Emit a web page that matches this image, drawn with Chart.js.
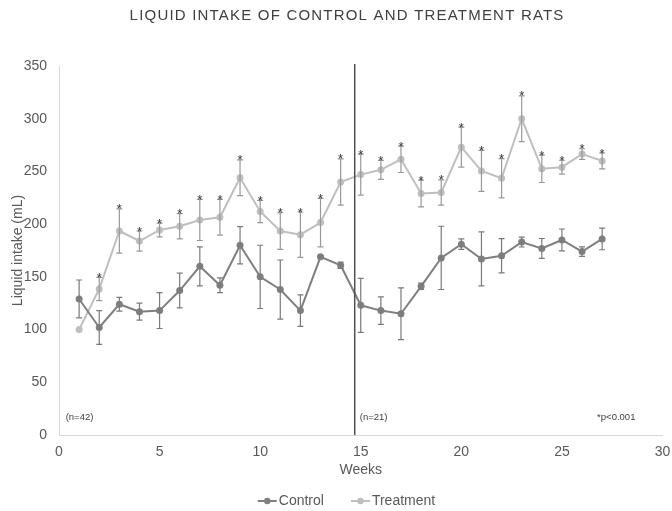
<!DOCTYPE html>
<html>
<head>
<meta charset="utf-8">
<script src="https://cdn.jsdelivr.net/npm/chart.js@4"></script>
<style>
  html, body { margin: 0; padding: 0; background: #ffffff; }
</style>
</head>
<body>
<canvas id="c" width="672" height="511"></canvas>
<script>
// Weekly liquid intake (mL), mean and error, per group
const weeks = [1,2,3,4,5,6,7,8,9,10,11,12,13,14,15,16,17,18,19,20,21,22,23,24,25,26,27];
const control = [129,102,124,117,118,137,160,142,180,150,138,118,169,161,123,118,115,141,168,181,167,170,183,177,185,174,186];
const controlErr = [18,16,6.5,8,17,16.5,18.5,7,17.7,30,28,15,1,3,25.6,13,24.5,3,30,5,25.6,16.3,4.7,9.4,10.4,4.5,10.3];
const treatment = [100,138.5,193.5,184,194.5,198,204,206.5,244,212,193.5,190,201.5,240,247,251.5,261.5,229,230,273,250.5,243.5,300,252.5,254,266.5,260];
const treatmentErr = [0,11,21,9.5,6.5,12,19.5,17,17,10.5,17.5,21.5,23,22,19.5,9,12.5,12.7,12,19,19.5,18.6,21.7,13,6.6,5,7.5];
// weeks where treatment differs significantly (*p<0.001)
const significant = [false,true,true,true,true,true,true,true,true,true,true,true,true,true,true,true,true,true,true,true,true,true,true,true,true,true,true];
const xTicks = [0,5,10,15,20,25,30];
const yTicks = [0,50,100,150,200,250,300,350];
const groupChangeWeek = 14.7;
const groupNotes = [{week: 0.33, text: '(n=42)'}, {week: 14.95, text: '(n=21)'}];

const FONT = "'Liberation Sans', Arial, sans-serif";
const C_CONTROL = '#7f7f7f';
const C_TREAT = '#bfbfbf';
const TEXT = '#595959';
const CENTER_X = 346.5;

const errorBars = {
  id: 'errorBars',
  afterDatasetsDraw(chart) {
    const ctx = chart.ctx;
    const ys = chart.scales.y;
    chart.data.datasets.forEach((ds, i) => {
      const meta = chart.getDatasetMeta(i);
      ctx.save();
      ctx.strokeStyle = ds.errColor;
      ctx.lineWidth = 1.2;
      meta.data.forEach((pt, j) => {
        const e = ds.err[j];
        if (!e) return;
        const v = ds.data[j].y;
        const yt = ys.getPixelForValue(v + e);
        const yb = ys.getPixelForValue(v - e);
        ctx.beginPath();
        ctx.moveTo(pt.x, yt); ctx.lineTo(pt.x, yb);
        ctx.moveTo(pt.x - 3, yt); ctx.lineTo(pt.x + 3, yt);
        ctx.moveTo(pt.x - 3, yb); ctx.lineTo(pt.x + 3, yb);
        ctx.stroke();
      });
      ctx.restore();
    });
  }
};

const annotations = {
  id: 'annotations',
  afterDraw(chart) {
    const ctx = chart.ctx;
    const xs = chart.scales.x, ys = chart.scales.y;
    const area = chart.chartArea;
    ctx.save();

    // chart title
    ctx.fillStyle = '#404040';
    ctx.font = '15px ' + FONT;
    ctx.textBaseline = 'middle';
    ctx.textAlign = 'left';
    const title = 'LIQUID INTAKE OF CONTROL AND TREATMENT RATS';
    ctx.letterSpacing = '1.2px';
    const tw = ctx.measureText(title).width - 1.2;
    ctx.fillText(title, CENTER_X - tw / 2, 16);
    ctx.letterSpacing = '0px';

    // divider between group sizes
    const xd = xs.getPixelForValue(groupChangeWeek);
    ctx.strokeStyle = '#505050';
    ctx.lineWidth = 1.5;
    ctx.beginPath();
    ctx.moveTo(xd, area.top - 2); ctx.lineTo(xd, area.bottom);
    ctx.stroke();

    // significance stars above treatment error bars
    ctx.fillStyle = '#333333';
    ctx.font = '13px ' + FONT;
    ctx.textAlign = 'center';
    weeks.forEach((w, i) => {
      if (!significant[i]) return;
      const yTop = ys.getPixelForValue(treatment[i] + treatmentErr[i]);
      ctx.fillText('*', xs.getPixelForValue(w), yTop + 1);
    });

    // group size notes and p-value key
    ctx.fillStyle = '#404040';
    ctx.font = '9.5px ' + FONT;
    ctx.textAlign = 'left';
    const yNote = ys.getPixelForValue(17);
    groupNotes.forEach(n => ctx.fillText(n.text, xs.getPixelForValue(n.week), yNote));
    ctx.fillText('*p<0.001', xs.getPixelForValue(26.75), yNote);

    // legend
    ctx.font = '14px ' + FONT;
    const items = chart.data.datasets.map(ds => ({label: ds.label, color: ds.borderColor, w: ctx.measureText(ds.label).width}));
    const markerW = 19, markerGap = 2, itemGap = 27;
    const total = items.reduce((s, it) => s + markerW + markerGap + it.w, 0) + itemGap * (items.length - 1);
    let x = CENTER_X - total / 2;
    const yL = 501;
    items.forEach(it => {
      ctx.strokeStyle = it.color;
      ctx.lineWidth = 2;
      ctx.beginPath(); ctx.moveTo(x, yL); ctx.lineTo(x + markerW, yL); ctx.stroke();
      ctx.fillStyle = it.color;
      ctx.beginPath(); ctx.arc(x + markerW / 2, yL, 3.2, 0, Math.PI * 2); ctx.fill();
      x += markerW + markerGap;
      ctx.fillStyle = TEXT;
      ctx.fillText(it.label, x, yL);
      x += it.w + itemGap;
    });
    ctx.restore();
  }
};

const toPoints = (vals) => weeks.map((w, i) => ({x: w, y: vals[i]}));

new Chart(document.getElementById('c'), {
  type: 'line',
  data: {
    datasets: [
      {
        label: 'Control', data: toPoints(control), err: controlErr, errColor: '#7a7a7a',
        borderColor: C_CONTROL, backgroundColor: C_CONTROL, borderWidth: 2,
        pointRadius: 3.5, pointBorderWidth: 0, pointBackgroundColor: C_CONTROL, tension: 0
      },
      {
        label: 'Treatment', data: toPoints(treatment), err: treatmentErr, errColor: '#999999',
        borderColor: C_TREAT, backgroundColor: C_TREAT, borderWidth: 2,
        pointRadius: 3.5, pointBorderWidth: 0, pointBackgroundColor: C_TREAT, tension: 0
      }
    ]
  },
  options: {
    responsive: false,
    animation: false,
    layout: { padding: { left: 0, right: 9.5, top: 66, bottom: 31 } },
    scales: {
      x: {
        type: 'linear', min: 0, max: 30,
        afterBuildTicks: (s) => { s.ticks = xTicks.map(v => ({value: v})); },
        afterFit: (s) => { s.height = 45; s.paddingLeft = 0; s.paddingRight = 0; },
        grid: { display: false, drawTicks: false },
        border: { display: true, color: '#d9d9d9', width: 1 },
        ticks: { color: TEXT, font: { family: FONT, size: 14 }, padding: 9, maxRotation: 0 },
        title: { display: true, text: 'Weeks', color: TEXT, font: { family: FONT, size: 14 }, padding: { top: 0, bottom: 1 } }
      },
      y: {
        min: 0, max: 350,
        afterBuildTicks: (s) => { s.ticks = yTicks.map(v => ({value: v})); },
        afterFit: (s) => { s.width = 59; s.paddingTop = 0; s.paddingBottom = 0; },
        grid: { display: false, drawTicks: false },
        border: { display: true, color: '#d9d9d9', width: 1 },
        ticks: { color: TEXT, font: { family: FONT, size: 14 }, padding: 12 },
        title: { display: true, text: 'Liquid intake (mL)', color: TEXT, font: { family: FONT, size: 14 }, padding: { top: 10, bottom: 0 } }
      }
    },
    plugins: {
      title: { display: false },
      legend: { display: false },
      tooltip: { enabled: false }
    }
  },
  plugins: [errorBars, annotations]
});
</script>
</body>
</html>
